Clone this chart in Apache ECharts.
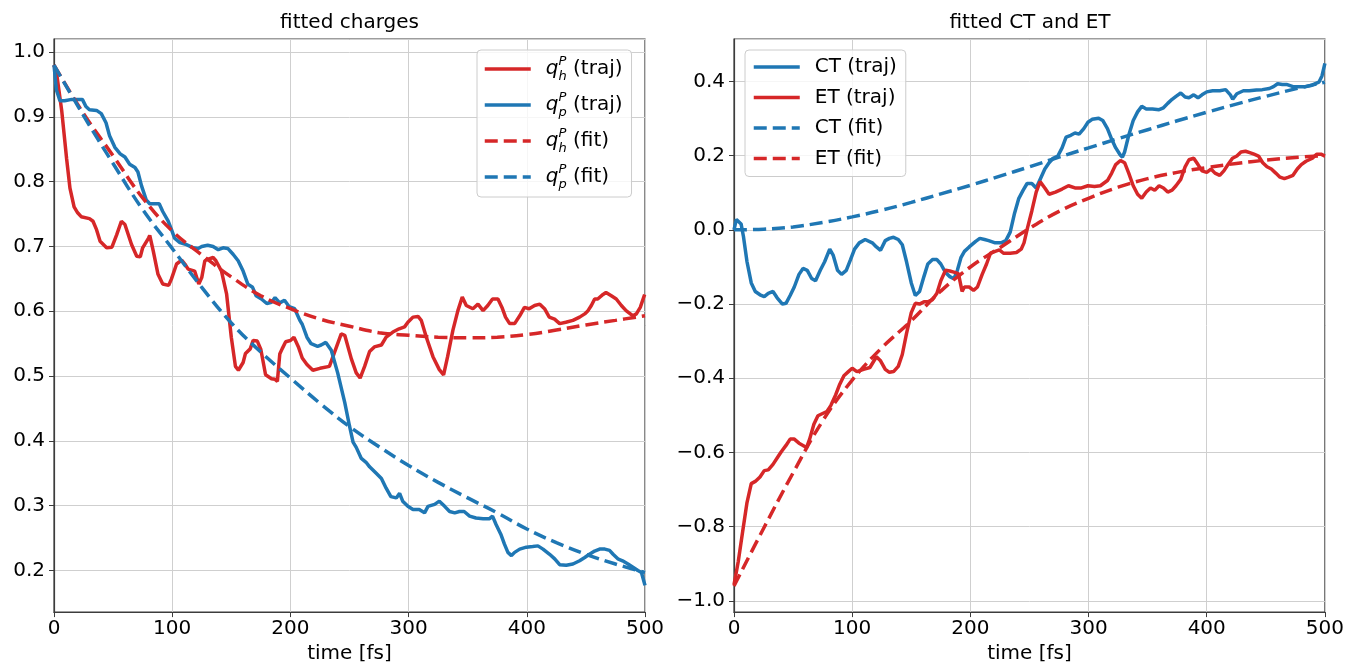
<!DOCTYPE html>
<html><head><meta charset="utf-8">
<script src="https://cdn.jsdelivr.net/npm/echarts@6/dist/echarts.min.js"></script>
<style>html,body{margin:0;padding:0;background:#fff}#c{width:1347px;height:669px}</style>
</head><body><div id="c"></div>
<script>
// ---- data: [time (fs), value] ----
const qhTraj = [[0,0.98],[2,0.97],[6.5,0.91],[10.7,0.835],[13.5,0.79],[17,0.761],[20,0.752],[23,0.746],[30,0.743],[33,0.739],[36,0.726],[39,0.708],[44.5,0.698],[49,0.699],[53,0.718],[57,0.739],[60,0.734],[65.6,0.703],[70,0.685],[73,0.684],[75,0.698],[80,0.713],[81,0.717],[84,0.693],[88,0.657],[92,0.642],[97,0.640],[99.4,0.650],[103.7,0.673],[108,0.679],[110.7,0.673],[113.5,0.665],[119,0.662],[122.5,0.642],[125,0.652],[127.6,0.678],[130,0.680],[134.6,0.683],[137,0.678],[141.7,0.662],[146,0.627],[150,0.56],[153.5,0.515],[156,0.509],[160,0.521],[162,0.535],[166,0.542],[168.5,0.555],[172,0.554],[175,0.541],[179,0.502],[184,0.496],[187,0.495],[189,0.492],[191,0.534],[193,0.542],[196,0.553],[200,0.555],[203,0.56],[207,0.544],[210,0.528],[214,0.518],[219,0.509],[225,0.512],[233,0.515],[237,0.535],[243,0.565],[246,0.563],[251.5,0.527],[255.7,0.505],[259,0.497],[262.8,0.515],[267,0.538],[271,0.545],[277,0.548],[281,0.56],[286.7,0.568],[292,0.573],[296.6,0.576],[299.4,0.583],[303.7,0.591],[308,0.592],[310.7,0.586],[315,0.56],[320.6,0.53],[326,0.51],[329.6,0.502],[333,0.53],[337.5,0.571],[341.7,0.601],[345.4,0.622],[348.8,0.609],[354.4,0.604],[358.7,0.611],[363,0.601],[367,0.609],[371,0.619],[375.6,0.619],[379,0.606],[382,0.591],[385.5,0.581],[389.7,0.581],[394,0.593],[398,0.606],[402,0.604],[406.6,0.609],[411,0.611],[415,0.604],[419,0.591],[423.5,0.588],[427.8,0.581],[433,0.583],[439,0.586],[444.7,0.591],[449,0.596],[451.8,0.601],[454.6,0.609],[457.4,0.619],[460,0.619],[464.5,0.626],[467,0.629],[471.5,0.624],[475.7,0.619],[480,0.609],[484,0.601],[489.8,0.593],[492.7,0.596],[496,0.606],[499.7,0.626]];
const qpTraj = [[0,0.98],[2,0.942],[5,0.925],[9,0.925],[15,0.927],[20.5,0.927],[24,0.927],[27,0.916],[30,0.911],[36,0.91],[40,0.905],[44,0.891],[47,0.871],[51.5,0.853],[56,0.843],[60,0.838],[64,0.827],[68.5,0.822],[71,0.815],[74,0.794],[78,0.772],[81,0.766],[85,0.766],[89,0.766],[92,0.754],[96.6,0.739],[99.4,0.726],[102,0.713],[106.5,0.706],[112,0.703],[118,0.698],[122,0.697],[125,0.70],[130,0.702],[134.6,0.70],[139,0.695],[143,0.698],[147,0.697],[151.5,0.688],[155.8,0.678],[160,0.662],[164,0.642],[168,0.637],[171,0.624],[175.5,0.619],[180,0.612],[184,0.614],[187,0.621],[191,0.613],[195,0.617],[199,0.607],[203.6,0.604],[208,0.586],[210,0.58],[214,0.56],[217.5,0.55],[223,0.546],[226,0.548],[230,0.552],[234.6,0.54],[240,0.505],[246,0.459],[250,0.423],[253,0.398],[255.7,0.39],[260,0.373],[264,0.367],[267,0.36],[272.6,0.35],[277,0.342],[281,0.327],[285,0.314],[289.6,0.312],[292.4,0.319],[295,0.307],[299.4,0.299],[303.7,0.294],[309,0.294],[313.5,0.289],[316.4,0.299],[322,0.302],[326,0.307],[330.5,0.299],[334.7,0.291],[339,0.289],[343,0.291],[347,0.291],[351.6,0.284],[357,0.281],[363,0.28],[368.5,0.28],[371,0.284],[374,0.271],[378,0.256],[381,0.241],[384,0.228],[387,0.223],[389.7,0.228],[394,0.233],[399.6,0.236],[405,0.237],[409.4,0.238],[413.7,0.233],[419.3,0.225],[423.6,0.218],[427.8,0.209],[433.4,0.208],[439,0.21],[444.7,0.215],[449,0.22],[453,0.225],[457.4,0.23],[461.6,0.233],[466,0.233],[470,0.231],[473,0.225],[477,0.218],[481,0.215],[485.6,0.21],[489.8,0.205],[494,0.20],[497,0.197],[500,0.177]];
const qhFit = [[0,0.98],[25,0.905],[50,0.84],[75,0.775],[100,0.724],[125,0.687],[150,0.653],[175,0.624],[200,0.604],[225,0.588],[250,0.577],[275,0.567],[300,0.563],[325,0.56],[350,0.559],[375,0.56],[400,0.564],[425,0.571],[450,0.579],[475,0.586],[500,0.593]];
const qpFit = [[0,0.98],[25,0.902],[50,0.828],[75,0.757],[100,0.697],[125,0.637],[150,0.582],[175,0.537],[200,0.497],[225,0.458],[250,0.422],[275,0.391],[300,0.362],[325,0.336],[350,0.312],[375,0.289],[400,0.264],[425,0.243],[450,0.225],[475,0.21],[500,0.197]];

const ctTraj = [[0,0.0],[2,0.028],[3.6,0.03],[6,0.016],[8,-0.018],[11,-0.086],[14.6,-0.143],[18,-0.166],[22,-0.175],[25.6,-0.18],[29,-0.171],[33,-0.166],[36.5,-0.183],[41,-0.2],[44,-0.198],[47.5,-0.177],[51,-0.154],[55,-0.12],[58.4,-0.104],[62,-0.109],[65.7,-0.131],[69,-0.137],[73,-0.109],[76.7,-0.086],[81,-0.052],[84,-0.069],[87.6,-0.109],[91,-0.12],[95,-0.109],[98.6,-0.08],[102,-0.052],[106,-0.035],[111,-0.026],[117,-0.035],[120.5,-0.046],[124,-0.055],[128,-0.029],[131.5,-0.023],[135,-0.02],[139,-0.026],[142.4,-0.04],[146,-0.086],[150,-0.143],[153.4,-0.177],[157,-0.166],[160.7,-0.126],[164,-0.092],[168,-0.08],[171.7,-0.08],[175,-0.092],[179,-0.115],[182.6,-0.126],[186,-0.132],[189,-0.109],[192,-0.075],[195,-0.058],[199,-0.046],[204.5,-0.031],[208,-0.023],[212,-0.026],[215.5,-0.029],[221,-0.035],[226,-0.035],[230,-0.029],[233.7,-0.006],[237.4,0.045],[241,0.085],[244.7,0.107],[248,0.125],[252,0.125],[255.7,0.113],[259,0.136],[263,0.164],[266.6,0.181],[270,0.193],[274,0.199],[277.6,0.221],[281,0.25],[285,0.255],[288.5,0.261],[292,0.258],[296,0.273],[299.5,0.29],[303,0.298],[308.6,0.301],[312,0.295],[316,0.273],[319.6,0.244],[323,0.221],[327,0.201],[328.7,0.196],[330.5,0.21],[334,0.255],[337.8,0.295],[341.5,0.318],[345,0.333],[348.8,0.326],[354,0.326],[359.7,0.324],[363.4,0.329],[367,0.341],[370.7,0.352],[374,0.36],[378,0.369],[381.7,0.358],[385,0.356],[389,0.364],[392.6,0.356],[396,0.364],[400,0.372],[405,0.375],[411,0.375],[416,0.378],[420,0.364],[422,0.352],[425.5,0.367],[431,0.375],[436,0.375],[442,0.377],[447,0.378],[453,0.381],[456.5,0.386],[460,0.394],[464,0.392],[467.5,0.392],[473,0.386],[478.5,0.386],[484,0.386],[489,0.39],[494.9,0.398],[497.5,0.415],[500,0.449]];
const etTraj = [[0,-0.957],[3.6,-0.894],[7.3,-0.814],[11,-0.735],[14.6,-0.684],[18,-0.678],[22,-0.666],[25.6,-0.649],[29,-0.647],[33,-0.632],[36.5,-0.615],[40,-0.598],[44,-0.581],[47.5,-0.564],[51,-0.564],[55,-0.575],[58.4,-0.581],[61.4,-0.587],[64,-0.564],[67.6,-0.524],[71,-0.501],[75,-0.495],[78.5,-0.49],[82,-0.473],[86,-0.445],[89.5,-0.416],[93,-0.393],[96.8,-0.382],[100,-0.373],[104,-0.382],[109.6,-0.376],[115,-0.371],[120.5,-0.342],[124,-0.353],[128,-0.376],[131.5,-0.384],[135,-0.382],[139,-0.368],[142.4,-0.336],[146,-0.279],[150,-0.223],[153.4,-0.198],[157,-0.2],[160.7,-0.194],[164,-0.194],[168,-0.188],[171.7,-0.171],[175,-0.137],[179,-0.109],[182.6,-0.111],[186,-0.114],[189.9,-0.118],[193,-0.166],[195,-0.154],[199,-0.154],[202.7,-0.163],[206,-0.154],[210,-0.12],[213.7,-0.092],[217,-0.063],[221,-0.058],[224.6,-0.054],[228,-0.063],[233.7,-0.063],[239,-0.061],[243,-0.052],[245.4,-0.035],[248.4,0.006],[252,0.051],[255.7,0.102],[259,0.13],[263,0.113],[266.6,0.096],[272,0.102],[277.6,0.11],[283,0.119],[288.5,0.113],[294,0.113],[299.5,0.119],[305,0.117],[310,0.119],[316,0.133],[319.6,0.153],[323,0.176],[327,0.187],[330.5,0.181],[334,0.153],[337.8,0.119],[341.5,0.096],[345,0.085],[348.8,0.102],[352.4,0.113],[356,0.107],[359.7,0.119],[363.4,0.113],[367,0.102],[370.7,0.107],[374,0.119],[378,0.136],[381.7,0.17],[385,0.189],[389,0.193],[392.6,0.176],[396,0.159],[400,0.155],[403.6,0.164],[407,0.153],[411,0.147],[414.5,0.159],[418,0.176],[421.8,0.193],[425.5,0.199],[429,0.21],[432.8,0.212],[436.4,0.208],[440,0.204],[443.8,0.199],[447.4,0.181],[451,0.17],[454.7,0.164],[458.4,0.153],[462,0.142],[465.7,0.138],[469.3,0.142],[473,0.147],[476.6,0.164],[480,0.176],[484,0.185],[489.4,0.193],[493,0.204],[496.7,0.204],[500,0.199]];
const ctFit = [[0,0.0],[25,0.002],[50,0.008],[75,0.02],[100,0.035],[125,0.053],[150,0.074],[175,0.097],[200,0.12],[225,0.145],[250,0.17],[275,0.196],[300,0.221],[325,0.246],[350,0.27],[375,0.294],[400,0.317],[425,0.339],[450,0.36],[475,0.38],[500,0.398]];
const etFit = [[0,-0.96],[25,-0.805],[50,-0.655],[75,-0.515],[100,-0.405],[125,-0.318],[150,-0.245],[175,-0.165],[200,-0.1],[225,-0.048],[250,0.004],[275,0.05],[300,0.085],[325,0.115],[350,0.138],[375,0.155],[400,0.168],[425,0.179],[450,0.188],[475,0.195],[500,0.2]];

const titles = ['fitted charges', 'fitted CT and ET'];
const xName = 'time [fs]';
const leftNames = ['qh (traj)', 'qp (traj)', 'qh (fit)', 'qp (fit)'];
const rightNames = ['CT (traj)', 'ET (traj)', 'CT (fit)', 'ET (fit)'];

// ---- styling ----
const RED = '#d62728', BLUE = '#1f77b4';
const FONT = 'DejaVu Sans';
const LW = 3.5, DASH = [13, 6];
const FRAME = '#3c3c3c', GRIDC = '#cfcfcf';

const yFmt = v => (Math.abs(v) < 1e-9 ? '0.0' : v.toFixed(1)).replace('-', '\u2212');

function xAxisOpt(idx) {
  return {
    type: 'value', gridIndex: idx, min: 0, max: 500, interval: 100,
    name: xName, nameLocation: 'middle', nameGap: 27,
    nameTextStyle: { fontFamily: FONT, fontSize: 20, color: '#000' },
    axisLine: { show: true, onZero: false, lineStyle: { color: FRAME, width: 1.2 } },
    axisTick: { show: true, length: 5, lineStyle: { color: FRAME, width: 1 } },
    axisLabel: { fontFamily: FONT, fontSize: 20, color: '#000', margin: 7 },
    splitLine: { show: true, lineStyle: { color: GRIDC, width: 1 } }
  };
}
function yAxisOpt(idx, mn, mx) {
  return {
    type: 'value', gridIndex: idx, min: mn, max: mx, splitNumber: 8,
    axisLine: { show: true, onZero: false, lineStyle: { color: FRAME, width: 1.2 } },
    axisTick: { show: true, length: 5, lineStyle: { color: FRAME, width: 1 } },
    axisLabel: { fontFamily: FONT, fontSize: 20, color: '#000', margin: 9,
      showMinLabel: false, showMaxLabel: false, formatter: yFmt },
    splitLine: { show: true, lineStyle: { color: GRIDC, width: 1 } }
  };
}
function ser(name, data, color, dashed, idx) {
  return {
    name, type: 'line', data, xAxisIndex: idx, yAxisIndex: idx,
    showSymbol: false, symbol: 'none', smooth: dashed ? 0.4 : false,
    lineStyle: { color, width: LW, type: dashed ? DASH : 'solid', cap: 'butt' },
    itemStyle: { color }, animation: false, z: dashed ? 3 : 2
  };
}

const legendRichLeft = {
  q: { fontFamily: FONT, fontSize: 20, fontStyle: 'italic', lineHeight: 28, verticalAlign: 'middle', color: '#000' },
  P: { fontFamily: FONT, fontSize: 13, fontStyle: 'italic', width: 0, verticalAlign: 'top', lineHeight: 14, color: '#000' },
  s: { fontFamily: FONT, fontSize: 13, fontStyle: 'italic', verticalAlign: 'bottom', lineHeight: 14, color: '#000' },
  t: { fontFamily: FONT, fontSize: 20, lineHeight: 28, verticalAlign: 'middle', color: '#000' }
};
function leftFmt(name) {
  const sub = name.charAt(1);
  const rest = name.slice(2);
  return '{q|q}{P|P}{s|' + sub + '}{t|' + rest + '}';
}
const legendBase = {
  orient: 'vertical', itemWidth: 46, itemHeight: 14,
  itemStyle: { opacity: 0, borderWidth: 0 },
  lineStyle: { width: LW },
  backgroundColor: 'rgba(255,255,255,0.8)', borderColor: '#cccccc', borderWidth: 1, borderRadius: 4
};

const option = {
  backgroundColor: '#fff',
  animation: false,
  title: [
    { text: titles[0], left: 349.5, top: 13, textAlign: 'center', padding: 0,
      textStyle: { fontFamily: FONT, fontSize: 20, fontWeight: 'normal', color: '#000' } },
    { text: titles[1], left: 1030, top: 13, textAlign: 'center', padding: 0,
      textStyle: { fontFamily: FONT, fontSize: 20, fontWeight: 'normal', color: '#000' } }
  ],
  grid: [
    { left: 54, right: 702, top: 39, bottom: 51, show: true, borderColor: FRAME, borderWidth: 1.2, containLabel: false },
    { left: 734, right: 21, top: 39, bottom: 51, show: true, borderColor: FRAME, borderWidth: 1.2, containLabel: false }
  ],
  xAxis: [xAxisOpt(0), xAxisOpt(1)],
  yAxis: [yAxisOpt(0, 0.1358, 1.0202), yAxisOpt(1, -1.0303, 0.5145)],
  legend: [
    Object.assign({}, legendBase, {
      data: leftNames, left: 477, top: 50, itemGap: 8, padding: [5, 9, 6, 6],
      formatter: leftFmt,
      textStyle: { fontFamily: FONT, fontSize: 20, color: '#000', padding: [0, 0, 0, 10], rich: legendRichLeft }
    }),
    Object.assign({}, legendBase, {
      data: rightNames, left: 745, top: 50, itemGap: 8.5, padding: [6, 9, 7, 7],
      textStyle: { fontFamily: FONT, fontSize: 20, color: '#000', lineHeight: 22, padding: [0, 0, 0, 10] }
    })
  ],
  series: [
    ser(leftNames[0], qhTraj, RED, false, 0),
    ser(leftNames[1], qpTraj, BLUE, false, 0),
    ser(leftNames[2], qhFit, RED, true, 0),
    ser(leftNames[3], qpFit, BLUE, true, 0),
    ser(rightNames[0], ctTraj, BLUE, false, 1),
    ser(rightNames[1], etTraj, RED, false, 1),
    ser(rightNames[2], ctFit, BLUE, true, 1),
    ser(rightNames[3], etFit, RED, true, 1)
  ]
};
const chart = echarts.init(document.getElementById('c'), null, { renderer: 'canvas' });
chart.setOption(option);
</script></body></html>
